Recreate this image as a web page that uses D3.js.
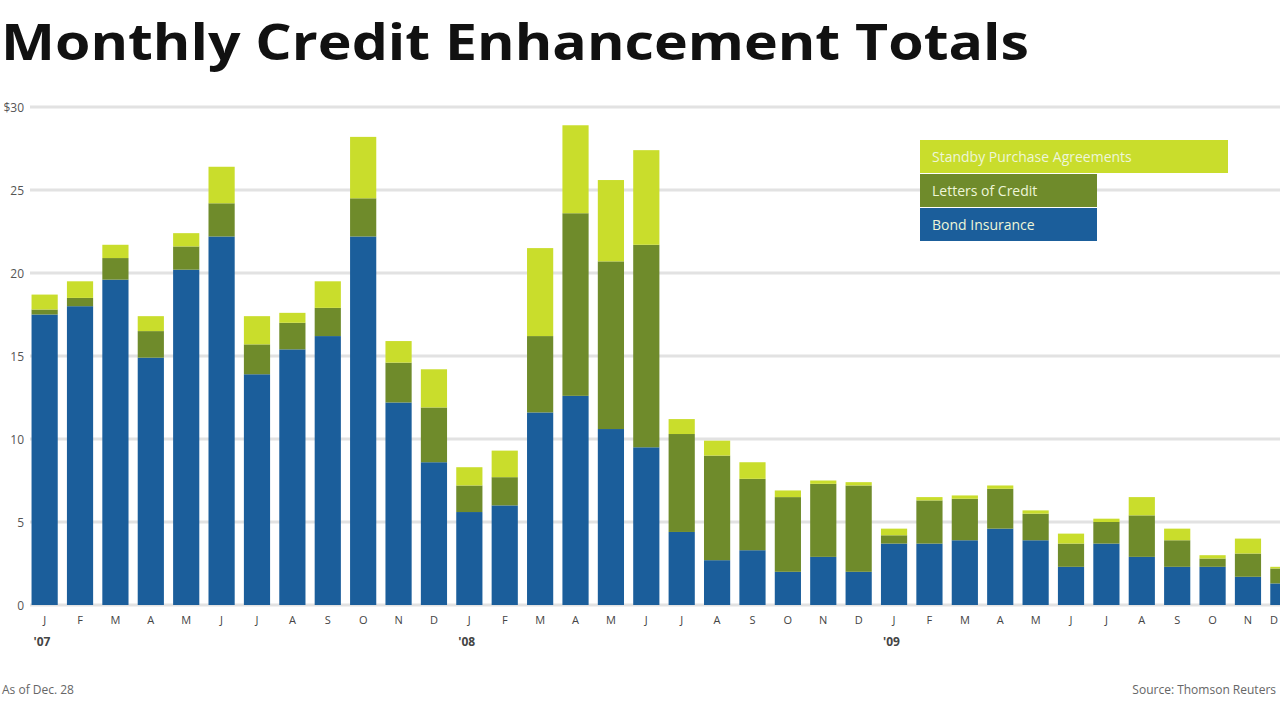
<!DOCTYPE html>
<html>
<head>
<meta charset="utf-8">
<script src="https://cdn.jsdelivr.net/npm/d3@7"></script>
<style>
  body { margin: 0; background: #fff; overflow: hidden; }
  text { font-family: "Open Sans", sans-serif; }
</style>
</head>
<body>
<script>
var months = ['J','F','M','A','M','J','J','A','S','O','N','D'];
var years = ["'07", "'08", "'09"];
var yTicks = [0, 5, 10, 15, 20, 25, 30];

// $ billions
var bondInsurance = [17.5,18.0,19.6,14.9,20.2,22.2,13.9,15.4,16.2,22.2,12.2,8.6,
                     5.6,6.0,11.6,12.6,10.6,9.5,4.4,2.7,3.3,2.0,2.9,2.0,
                     3.7,3.7,3.9,4.6,3.9,2.3,3.7,2.9,2.3,2.3,1.7,1.3];
var lettersOfCredit = [0.3,0.5,1.3,1.6,1.4,2.0,1.8,1.6,1.7,2.3,2.4,3.3,
                       1.6,1.7,4.6,11.0,10.1,12.2,5.9,6.3,4.3,4.5,4.4,5.2,
                       0.5,2.6,2.5,2.4,1.6,1.4,1.3,2.5,1.6,0.5,1.4,0.9];
var standbyPurchase = [0.9,1.0,0.8,0.9,0.8,2.2,1.7,0.6,1.6,3.7,1.3,2.3,
                       1.1,1.6,5.3,5.3,4.9,5.7,0.9,0.9,1.0,0.4,0.2,0.2,
                       0.4,0.2,0.2,0.2,0.2,0.6,0.2,1.1,0.7,0.2,0.9,0.1];

var keys = ['bond', 'loc', 'spa'];
var colors = { bond: '#1b5e9b', loc: '#6f8b2b', spa: '#c9dd2c' };

var rows = bondInsurance.map(function (d, i) {
    return { i: i, bond: d, loc: lettersOfCredit[i], spa: standbyPurchase[i] };
});

var svg = d3.select('body').append('svg').attr('width', 1280).attr('height', 720);

var x = d3.scaleBand().domain(d3.range(36)).range([28, 1300]).paddingInner(0.26).paddingOuter(0.1);
var y = d3.scaleLinear().domain([0, 30]).range([605, 107]);

svg.append('text').attr('x', 1).attr('y', 60)
   .attr('font-size', 50).attr('font-weight', 'bold').attr('fill', '#111')
   .attr('textLength', 1028).attr('lengthAdjust', 'spacingAndGlyphs')
   .text('Monthly Credit Enhancement Totals');

svg.selectAll('.grid').data(yTicks).enter().append('line')
   .attr('x1', 30).attr('x2', 1280)
   .attr('y1', function (d) { return y(d); }).attr('y2', function (d) { return y(d); })
   .attr('stroke', '#e2e2e2').attr('stroke-width', 3);

svg.selectAll('.yl').data(yTicks).enter().append('text')
   .attr('x', 24).attr('y', function (d) { return y(d) + 5; })
   .attr('text-anchor', 'end').attr('font-size', 12).attr('fill', '#555')
   .text(function (d) { return d === 30 ? '$30' : d; });

var stack = d3.stack().keys(keys)(rows);
svg.selectAll('.layer').data(stack).enter().append('g')
   .attr('fill', function (d) { return colors[d.key]; })
   .selectAll('rect').data(function (d) { return d; }).enter().append('rect')
   .attr('x', function (d) { return x(d.data.i); })
   .attr('width', x.bandwidth())
   .attr('y', function (d) { return y(d[1]); })
   .attr('height', function (d) { return y(d[0]) - y(d[1]); });

svg.selectAll('.ml').data(d3.range(36)).enter().append('text')
   .attr('x', function (i) { return Math.min(x(i) + x.bandwidth() / 2, 1274); })
   .attr('y', 624).attr('text-anchor', 'middle').attr('font-size', 11).attr('fill', '#444')
   .text(function (i) { return months[i % 12]; });

svg.selectAll('.yr').data(years).enter().append('text')
   .attr('x', function (d, k) { return x(k * 12) + 2; })
   .attr('y', 646).attr('font-size', 12).attr('font-weight', 'bold').attr('fill', '#444')
   .text(function (d) { return d; });

svg.append('text').attr('x', 2).attr('y', 694).attr('font-size', 12).attr('fill', '#666')
   .text('As of Dec. 28');
svg.append('text').attr('x', 1276).attr('y', 694).attr('text-anchor', 'end')
   .attr('font-size', 12).attr('fill', '#666').text('Source: Thomson Reuters');

var legend = [
    { key: 'spa', label: 'Standby Purchase Agreements', y: 140, w: 308 },
    { key: 'loc', label: 'Letters of Credit', y: 174, w: 177 },
    { key: 'bond', label: 'Bond Insurance', y: 208, w: 177 }
];
var lg = svg.selectAll('.lg').data(legend).enter().append('g');
lg.append('rect').attr('x', 920).attr('y', function (d) { return d.y; })
  .attr('width', function (d) { return d.w; }).attr('height', 33)
  .attr('fill', function (d) { return colors[d.key]; });
lg.append('text').attr('x', 932).attr('y', function (d) { return d.y + 22; })
  .attr('font-size', 14).attr('fill', '#eef6d8')
  .text(function (d) { return d.label; });
</script>
</body>
</html>
